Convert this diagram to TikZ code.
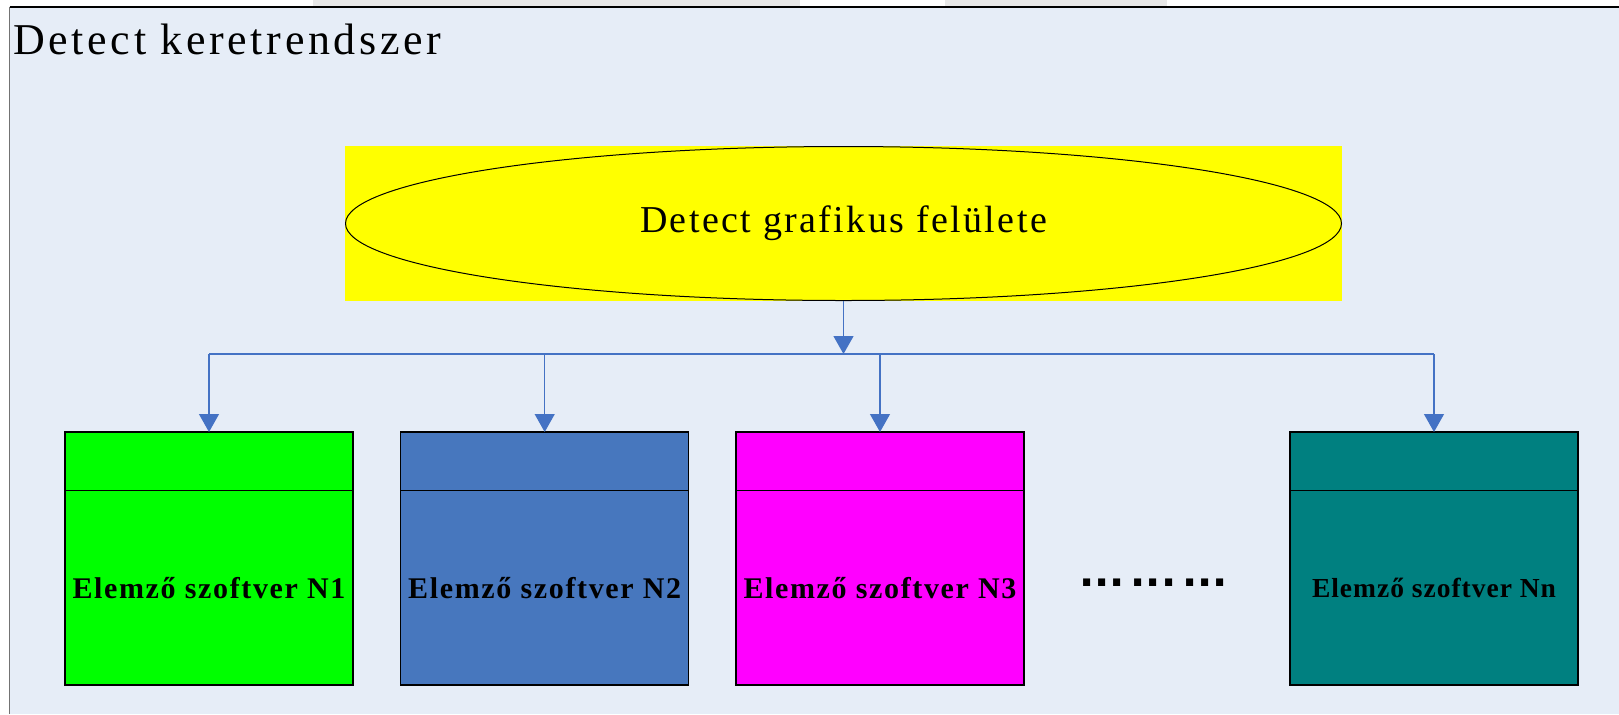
\documentclass[tikz,border=0pt]{standalone}
\usepackage{fontspec}
\setmainfont{Liberation Serif}
\newfontfamily\dotfont{DejaVu Sans}
\usetikzlibrary{arrows.meta,positioning}

\definecolor{framebg}{RGB}{230,237,247}
\definecolor{linkblue}{RGB}{68,114,196}
\definecolor{guiyellow}{RGB}{255,255,0}
\definecolor{swgreen}{RGB}{0,255,0}
\definecolor{swblue}{RGB}{71,119,190}
\definecolor{swmagenta}{RGB}{255,0,255}
\definecolor{swteal}{RGB}{0,128,128}

\tikzset{
	headbox/.style={draw=black, line width=0.6pt, minimum width=144pt, minimum height=29.35pt, inner sep=0pt, outer sep=0pt},
	bodybox/.style={draw=black, line width=0.6pt, minimum width=144pt, minimum height=97.15pt, inner sep=0pt, outer sep=0pt,
		font=\fontsize{15}{18}\selectfont\bfseries\addfontfeature{LetterSpace=5.5}},
	guibox/.style={fill=guiyellow, minimum width=498.5pt, minimum height=77.5pt, inner sep=0pt, outer sep=0pt,
		font=\fontsize{19}{22}\selectfont\addfontfeature{LetterSpace=6.3},
		path picture={\draw[line width=0.5pt] (path picture bounding box.center) ellipse [x radius=249pt, y radius=38.5pt];}},
	bus/.style={draw=linkblue, line width=0.6pt},
	link/.style={bus, -{Triangle[width=10pt,length=9pt]}},
}

\begin{document}
\begin{tikzpicture}[x=0.5pt, y=-0.5pt]
	\useasboundingbox (0,0) rectangle (1619,714);
	\fill[white] (0,0) rectangle (1619,714);
	% faint strip above the frame
	\fill[black!9] (313,0) rectangle (800,6);
	\fill[black!9] (945,0) rectangle (1167,6);
	% frame
	\fill[framebg] (9.5,7) rectangle (1619,714);
	\draw[black!55, line width=0.6pt] (9.5,7) -- (9.5,714);
	\draw[black, line width=0.9pt] (9.5,7) -- (1619,7);

	\node[anchor=base west, inner sep=0pt, font=\fontsize{22}{26}\selectfont\addfontfeature{LetterSpace=8.2}] (title) at (13,54) {Detect keretrendszer};

	\node[guibox] (gui) at (843.5,223.5) {Detect grafikus felülete};

	% analysers
	\node[bodybox, fill=swgreen] (n1) at (209,587.85) {Elemző szoftver N1};
	\node[headbox, fill=swgreen, above=0pt of n1] (n1h) {};

	\node[bodybox, fill=swblue] (n2) at (544.7,587.85) {Elemző szoftver N2};
	\node[headbox, fill=swblue, above=0pt of n2] (n2h) {};

	\node[bodybox, fill=swmagenta] (n3) at (880,587.85) {Elemző szoftver N3};
	\node[headbox, fill=swmagenta, above=0pt of n3] (n3h) {};

	\node[bodybox, fill=swteal, font=\fontsize{13.75}{16}\selectfont\bfseries\addfontfeature{LetterSpace=3.6}] (nn) at (1434,587.85) {Elemző szoftver Nn};
	\node[headbox, fill=swteal, above=0pt of nn] (nnh) {};

	\node[anchor=base, inner sep=0pt, font=\fontsize{20}{24}\dotfont\bfseries] (more) at (1153.5,586) {...\kern2.85pt...\kern2.85pt...};

	% connectors
	\coordinate (split) at (843.5,354);
	\draw[link] (gui.south) -- (split);
	\draw[bus] (n1h.north |- split) -- (nnh.north |- split);
	\draw[link] (n1h.north |- split) -- (n1h.north);
	\draw[link] (n2h.north |- split) -- (n2h.north);
	\draw[link] (n3h.north |- split) -- (n3h.north);
	\draw[link] (nnh.north |- split) -- (nnh.north);
\end{tikzpicture}
\end{document}
